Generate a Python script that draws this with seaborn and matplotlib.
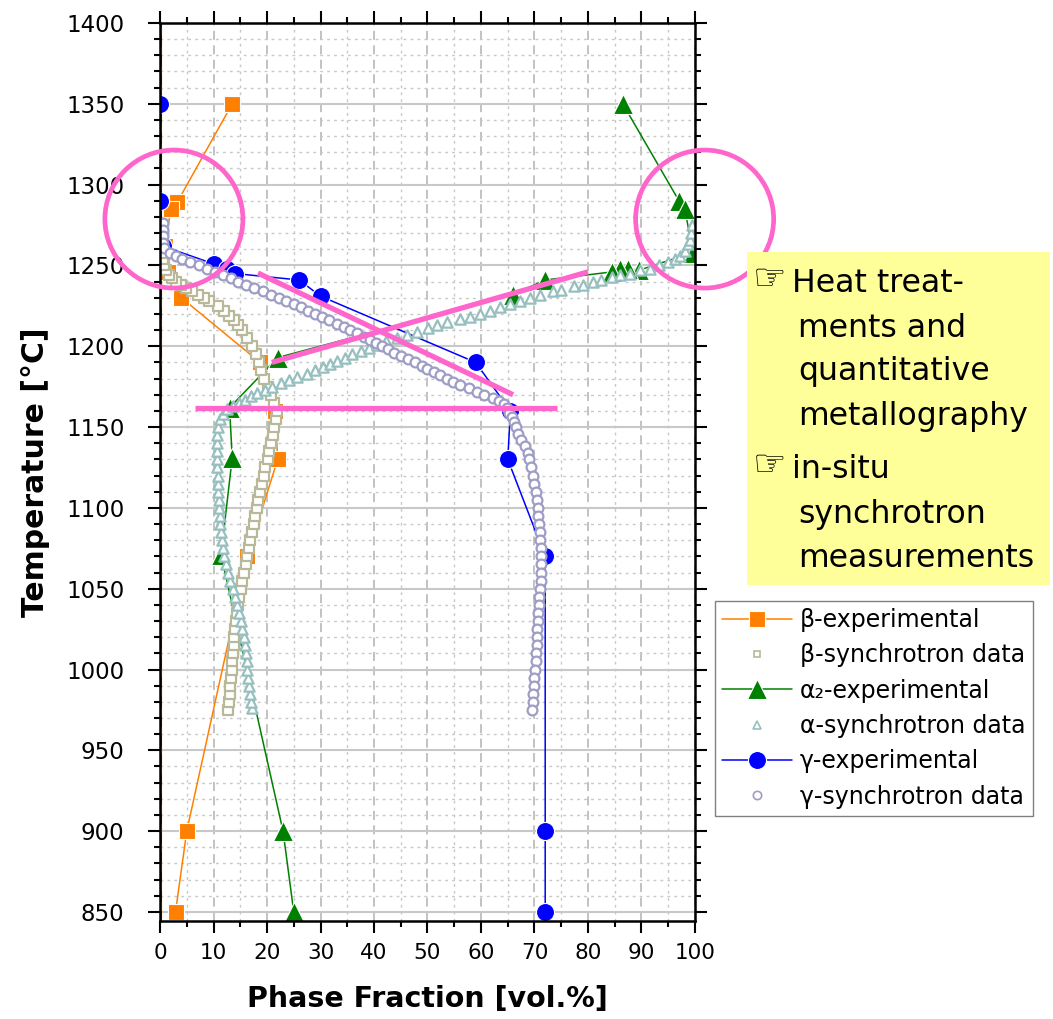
import matplotlib
matplotlib.use("Agg")
import matplotlib.pyplot as plt
from matplotlib.lines import Line2D
from matplotlib.patches import Ellipse, Rectangle
from matplotlib.ticker import MultipleLocator
import seaborn as sns

# ---------------- data ----------------
# beta experimental
beta_exp_temp = [1350, 1289, 1285, 1262, 1246, 1230, 1190, 1160, 1130, 1070, 900, 850]
beta_exp_frac = [13.5, 3.2, 2.0, 1.0, 1.5, 4.0, 18.7, 21.5, 22.0, 16.3, 5.0, 2.9]

# alpha2 experimental
alpha_exp_temp = [1350, 1290, 1285, 1258, 1247, 1248, 1248, 1246, 1241, 1232, 1193, 1162, 1131, 1071, 900, 850]
alpha_exp_frac = [86.5, 97.0, 98.1, 99.6, 89.5, 87.5, 86.0, 84.5, 72.0, 66.0, 22.0, 13.0, 13.5, 11.4, 23.0, 25.0]

# gamma experimental
gamma_exp_temp = [1350, 1290, 1262, 1251, 1248, 1245, 1241, 1231, 1190, 1160, 1130, 1070, 900, 850]
gamma_exp_frac = [0.0, 0.0, 0.5, 10.0, 12.6, 14.0, 26.0, 30.0, 59.0, 65.5, 65.0, 72.0, 72.0, 72.0]

# beta synchrotron
beta_syn_temp = [975, 980, 985, 990, 995, 1000, 1005, 1010, 1015, 1020, 1025, 1030, 1035, 1040,
                 1045, 1050, 1055, 1060, 1065, 1070, 1075, 1080, 1085, 1090, 1095, 1100, 1105,
                 1110, 1115, 1120, 1125, 1130, 1135, 1140, 1145, 1150, 1155, 1160, 1165, 1170,
                 1175, 1180, 1185, 1190, 1195, 1200, 1205, 1210, 1213, 1216, 1219, 1222, 1225,
                 1228, 1230, 1232, 1234, 1236, 1238, 1240, 1242, 1244, 1247, 1250, 1254, 1258,
                 1262, 1266, 1270, 1274]
beta_syn_frac = [12.7, 12.9, 13.0, 13.1, 13.2, 13.4, 13.5, 13.6, 13.8, 13.9, 14.1, 14.2, 14.4, 14.5,
                 14.8, 15.1, 15.4, 15.7, 16.0, 16.3, 16.6, 16.9, 17.2, 17.5, 17.8, 18.1, 18.4,
                 18.7, 19.0, 19.4, 19.7, 20.1, 20.4, 20.8, 21.1, 21.4, 21.7, 21.8, 21.3, 20.8,
                 20.2, 19.5, 18.9, 18.5, 17.9, 17.2, 16.3, 15.3, 14.6, 13.8, 12.9, 12.0, 10.8,
                 9.2, 8.3, 7.1, 6.0, 4.9, 4.0, 3.0, 2.3, 1.6, 1.1, 0.8, 0.6, 0.5,
                 0.4, 0.4, 0.5, 0.6]

# alpha synchrotron
alpha_syn_temp = [976, 980, 985, 990, 995, 1000, 1005, 1010, 1015, 1020, 1025, 1030, 1035, 1040,
                  1045, 1050, 1055, 1060, 1065, 1070, 1075, 1080, 1085, 1090, 1095, 1100, 1105,
                  1110, 1115, 1120, 1125, 1130, 1135, 1140, 1145, 1150, 1155, 1158, 1161, 1163,
                  1165, 1167, 1169, 1171, 1173, 1175, 1177, 1179, 1181, 1183, 1185, 1187, 1189,
                  1191, 1193, 1195, 1197, 1199, 1201, 1203, 1205, 1207, 1209, 1211, 1213, 1215,
                  1217, 1218, 1220, 1222, 1224, 1226, 1228, 1230, 1232, 1234, 1235, 1237, 1238,
                  1240, 1241, 1243, 1244, 1245, 1247, 1248, 1250, 1252, 1254, 1256, 1259, 1263,
                  1266, 1270, 1275]
alpha_syn_frac = [17.2, 17.0, 16.8, 16.7, 16.5, 16.3, 16.2, 16.0, 15.9, 15.7, 15.4, 15.1, 14.8, 14.4,
                  14.0, 13.6, 13.1, 12.7, 12.3, 12.0, 11.8, 11.6, 11.4, 11.3, 11.2, 11.1, 11.0,
                  10.9, 10.8, 10.8, 10.7, 10.7, 10.6, 10.6, 10.7, 10.9, 11.3, 11.8, 12.6, 13.7,
                  14.8, 15.9, 17.0, 18.2, 19.6, 21.0, 22.6, 24.1, 25.6, 27.4, 28.9, 30.4, 31.7,
                  33.1, 34.5, 35.9, 37.5, 39.1, 40.6, 42.3, 44.3, 46.1, 48.0, 50.1, 51.8, 53.6,
                  56.0, 57.9, 59.8, 61.7, 63.5, 65.4, 67.3, 69.2, 71.0, 73.5, 75.0, 77.4, 79.0,
                  81.0, 82.5, 84.5, 86.0, 87.9, 89.7, 91.6, 93.3, 95.0, 96.2, 97.2, 98.1, 98.7,
                  99.1, 99.3, 99.4]

# gamma synchrotron
gamma_syn_temp = [1276, 1272, 1268, 1264, 1261, 1258, 1256, 1254, 1252, 1250, 1248, 1246, 1244,
                  1242, 1240, 1238, 1236, 1234, 1232, 1230, 1228, 1226, 1224, 1222, 1220, 1218,
                  1216, 1214, 1212, 1210, 1208, 1206, 1204, 1202, 1200, 1198, 1196, 1194, 1192,
                  1190, 1188, 1186, 1184, 1182, 1180, 1178, 1176, 1174, 1172, 1170, 1168, 1166,
                  1164, 1162, 1159, 1156, 1153, 1150, 1146, 1142, 1138, 1134, 1130, 1125, 1120,
                  1115, 1110, 1105, 1100, 1095, 1090, 1085, 1080, 1075, 1070, 1065, 1060, 1055,
                  1050, 1045, 1040, 1035, 1030, 1025, 1020, 1015, 1010, 1005, 1000, 995, 990,
                  985, 980, 975]
gamma_syn_frac = [0.6, 0.6, 0.6, 0.6, 0.7, 1.9, 3.0, 4.1, 5.6, 7.2, 8.8, 10.3, 11.8,
                  13.2, 14.6, 16.1, 17.6, 19.2, 20.7, 22.2, 23.6, 25.0, 26.4, 27.6, 28.9, 30.2,
                  31.6, 33.0, 34.3, 35.5, 36.8, 38.1, 39.3, 40.4, 41.5, 42.6, 43.8, 45.0, 46.3,
                  47.6, 48.9, 50.0, 51.2, 52.4, 53.7, 54.8, 56.1, 57.8, 59.2, 60.6, 62.2, 63.4,
                  64.3, 64.8, 65.3, 65.8, 66.2, 66.6, 67.0, 67.5, 68.2, 68.8, 69.0, 69.4, 69.7,
                  69.9, 70.2, 70.5, 70.6, 70.7, 70.8, 71.0, 71.1, 71.2, 71.2, 71.2, 71.2, 71.2,
                  71.1, 70.9, 70.8, 70.7, 70.6, 70.5, 70.5, 70.4, 70.3, 70.2, 70.1, 70.0, 69.9,
                  69.8, 69.7, 69.5]

legend_labels = ["β-experimental", "β-synchrotron data", "α₂-experimental",
                 "α-synchrotron data", "γ-experimental", "γ-synchrotron data"]
note_lines = ["Heat treat-", "ments and", "quantitative", "metallography",
              "in-situ", "synchrotron", "measurements"]

# hand-drawn highlight annotations (data coordinates)
hl_horizontal = ([6.5, 74.2], [1161.8, 1161.8])
hl_descending = ([18.3, 66.0], [1245.3, 1170.0])
hl_ascending = ([20.9, 80.0], [1190.0, 1246.0])
hl_circles = [(2.6, 1278.7), (101.8, 1278.7)]

# ---------------- style ----------------
C_BETA, C_ALPHA, C_GAMMA = "#ff8000", "#008000", "#0000ff"
C_BETA_S, C_ALPHA_S, C_GAMMA_S = "#b9b999", "#97bfbf", "#9d9dc6"
PINK = "#ff66cc"

sns.set_style("ticks")
plt.rcParams["font.family"] = ["DejaVu Sans"]
plt.rcParams["text.color"] = "black"
plt.rcParams["axes.labelcolor"] = "black"
plt.rcParams["xtick.color"] = "black"
plt.rcParams["ytick.color"] = "black"

W, H = 1053, 1019
fig = plt.figure(figsize=(W / 100, H / 100), dpi=100)
ax = fig.add_axes([160 / W, 1 - 921 / H, 535 / W, 898 / H])

ax.set_xlim(0, 100)
ax.set_ylim(844.4, 1400)
ax.xaxis.set_major_locator(MultipleLocator(10))
ax.xaxis.set_minor_locator(MultipleLocator(5))
ax.yaxis.set_major_locator(MultipleLocator(50))
ax.yaxis.set_minor_locator(MultipleLocator(10))

ax.set_axisbelow(True)
ax.grid(which="major", axis="y", color="#c8c8c8", lw=1.5, ls="-")
ax.grid(which="minor", axis="y", color="#c8c8c8", lw=1.0, ls=(0, (2, 3)))
ax.grid(which="major", axis="x", color="#bdbdbd", lw=1.3, ls=(0, (5, 3)))
ax.grid(which="minor", axis="x", color="#c8c8c8", lw=1.0, ls=(0, (2, 3)))

for sp in ax.spines.values():
    sp.set_linewidth(1.8)
    sp.set_color("black")
    sp.set_zorder(5)
ax.tick_params(which="both", direction="out", top=True, right=True,
               labeltop=False, labelright=False, width=1.5, color="black",
               labelcolor="black")
ax.tick_params(which="major", length=8.6)
ax.tick_params(which="minor", length=4.3)
ax.tick_params(axis="y", which="major", pad=17, labelsize=16.5)
ax.tick_params(axis="x", which="major", pad=7, labelsize=15.5)

# vertical line at 0 %
ax.axvline(0, color=C_BETA, lw=3, zorder=2)
ax.axvline(0, color="#c00000", lw=2, ls=(0, (4, 3)), zorder=2.1)

# experimental series
exp_kw = dict(sort=False, estimator=None, lw=1.1, markeredgecolor="white",
              markeredgewidth=0.8, ax=ax, legend=False)
sns.lineplot(x=beta_exp_frac, y=beta_exp_temp, color=C_BETA, marker="s",
             markersize=11.5, zorder=3, **exp_kw)
sns.lineplot(x=alpha_exp_frac, y=alpha_exp_temp, color=C_ALPHA, marker="^",
             markersize=14, zorder=3, **exp_kw)
sns.lineplot(x=gamma_exp_frac, y=gamma_exp_temp, color=C_GAMMA, marker="o",
             markersize=13, zorder=3, **exp_kw)

# synchrotron series (open markers)
syn_kw = dict(color="white", linewidth=1.6, ax=ax, legend=False, zorder=4)
sns.scatterplot(x=beta_syn_frac, y=beta_syn_temp, marker="s", s=48,
                edgecolor=C_BETA_S, **syn_kw)
sns.scatterplot(x=alpha_syn_frac, y=alpha_syn_temp, marker="^", s=55,
                edgecolor=C_ALPHA_S, **syn_kw)
sns.scatterplot(x=gamma_syn_frac, y=gamma_syn_temp, marker="o", s=50,
                edgecolor=C_GAMMA_S, **syn_kw)

# highlight annotations
for xs, ys in (hl_horizontal, hl_descending, hl_ascending):
    ax.plot(xs, ys, color=PINK, lw=3.8, solid_capstyle="butt", zorder=6)
for cx, cy in hl_circles:
    ax.add_patch(Ellipse((cx, cy), width=25.8, height=85.4, fill=False,
                         edgecolor=PINK, lw=3.4, clip_on=False, zorder=6))

# axis labels
ax.set_xlabel("Phase Fraction [vol.%]", fontsize=20.5, fontweight="bold", color="black")
ax.set_ylabel("Temperature [°C]", fontsize=21.5, fontweight="bold", color="black")
ax.xaxis.set_label_coords(0.5, (921 - 985) / 898)
ax.yaxis.set_label_coords((50 - 160) / 535, 0.5)

# legend
handles = [
    Line2D([], [], color=C_BETA, lw=1.1, marker="s", markersize=11.5, markeredgecolor="white", markeredgewidth=0.8),
    Line2D([], [], ls="none", marker="s", markersize=5, markerfacecolor="white", markeredgecolor=C_BETA_S, markeredgewidth=1.2),
    Line2D([], [], color=C_ALPHA, lw=1.1, marker="^", markersize=14, markeredgecolor="white", markeredgewidth=0.8),
    Line2D([], [], ls="none", marker="^", markersize=6, markerfacecolor="white", markeredgecolor=C_ALPHA_S, markeredgewidth=1.2),
    Line2D([], [], color=C_GAMMA, lw=1.1, marker="o", markersize=13, markeredgecolor="white", markeredgewidth=0.8),
    Line2D([], [], ls="none", marker="o", markersize=6, markerfacecolor="white", markeredgecolor=C_GAMMA_S, markeredgewidth=1.2),
]
leg = fig.legend(handles, legend_labels, loc="upper left",
                 bbox_to_anchor=(715 / W, 1 - 601 / H), borderaxespad=0,
                 frameon=True, fancybox=False, edgecolor="#808080", framealpha=1,
                 fontsize=17, handlelength=2.95, handletextpad=0.35,
                 borderpad=0.3, labelspacing=0.48)
leg.get_frame().set_linewidth(1.0)
for t in leg.get_texts():
    t.set_color("black")

# yellow note box
fig.patches.append(Rectangle((747 / W, 1 - 585 / H), (1050 - 747) / W, (585 - 252) / H,
                             transform=fig.transFigure, facecolor="#ffff99",
                             edgecolor="none", zorder=0))
baselines = [292, 337, 380, 425, 478, 523, 567]
indents = [792, 798, 798, 798, 792, 798, 798]
for txt, yb, xi in zip(note_lines, baselines, indents):
    fig.text(xi / W, 1 - yb / H, txt, fontsize=22.7, va="baseline", ha="left", color="black")
for yb in (baselines[0], baselines[4]):
    fig.text(753 / W, 1 - (yb - 2) / H, "☞", fontsize=27, va="baseline", ha="left", color="black")

fig.savefig("out.png", dpi=100)
